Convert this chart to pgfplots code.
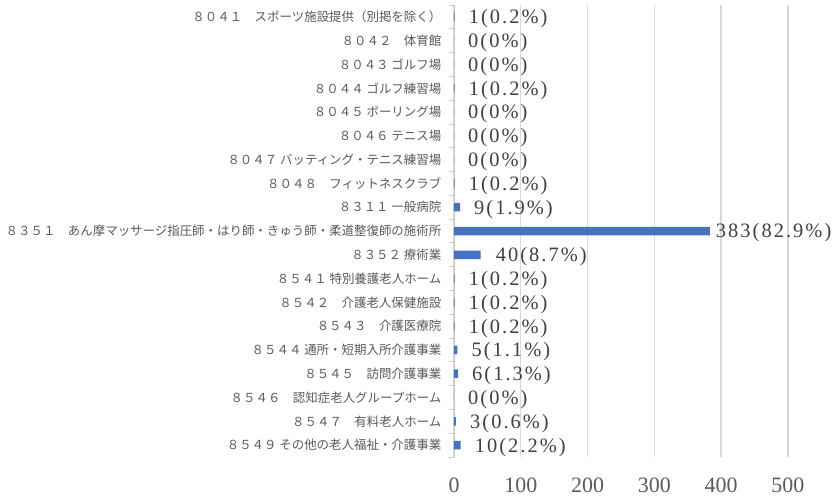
\documentclass[border=0pt]{standalone}
\usepackage{fontspec}
\setmainfont{Liberation Serif}
\newfontfamily\cjk{Noto Sans CJK JP}
\newfontfamily\lab[LetterSpace=10]{Liberation Serif}
\usepackage{pgfplots}
\usepackage{pgfplotstable}
\pgfplotsset{compat=1.18}
\definecolor{barc}{HTML}{4472C4}
\definecolor{txt}{HTML}{595959}
\definecolor{dlab}{HTML}{404040}
\definecolor{grd}{HTML}{D9D9D9}
\definecolor{axc}{HTML}{C8C8C8}

\pgfplotstableread{
y v lab off
0 1 1(0.2\%) 14
1 0 0(0\%) 14
2 0 0(0\%) 14
3 1 1(0.2\%) 14
4 0 0(0\%) 14
5 0 0(0\%) 14
6 0 0(0\%) 14
7 1 1(0.2\%) 14
8 9 9(1.9\%) 14
9 383 383(82.9\%) 6
10 40 40(8.7\%) 15
11 1 1(0.2\%) 14
12 1 1(0.2\%) 14
13 1 1(0.2\%) 14
14 5 5(1.1\%) 14
15 6 6(1.3\%) 14
16 0 0(0\%) 14
17 3 3(0.6\%) 14
18 10 10(2.2\%) 14
}\data

\begin{document}
\begin{tikzpicture}
\path[use as bounding box] (-454bp,-42bp) rectangle (382bp,457bp);
\begin{axis}[
  at={(0,0)}, anchor=south west,
  scale only axis, width=382bp, height=452bp,
  xmin=0, xmax=572, ymin=-0.5, ymax=18.5, y dir=reverse,
  axis line style={draw=none},
  xtick={0,100,...,500},
  xmajorgrids, grid style={grd, line width=1.3bp},
  major x tick style={draw=none},
  /pgf/number format/assume math mode=true,
  xticklabel style={font=\fontsize{22}{24}\selectfont, text=txt, anchor=base, yshift=-35bp},
  ytick={0,...,18},
  yticklabels={
    ８０４１　スポーツ施設提供（別掲を除く）,
    ８０４２　体育館,
    ８０４３ ゴルフ場,
    ８０４４ ゴルフ練習場,
    ８０４５ ボーリング場,
    ８０４６ テニス場,
    ８０４７ バッティング・テニス練習場,
    ８０４８　フィットネスクラブ,
    ８３１１ 一般病院,
    ８３５１　あん摩マッサージ指圧師・はり師・きゅう師・柔道整復師の施術所,
    ８３５２ 療術業,
    ８５４１ 特別養護老人ホーム,
    ８５４２　介護老人保健施設,
    ８５４３　介護医療院,
    ８５４４ 通所・短期入所介護事業,
    ８５４５　訪問介護事業,
    ８５４６　認知症老人グループホーム,
    ８５４７　有料老人ホーム,
    ８５４９ その他の老人福祉・介護事業},
  yticklabel style={font=\cjk\fontsize{12.5}{14}\selectfont, text=txt, anchor=east, inner sep=0pt, xshift=-12.5bp},
  major y tick style={draw=none},
  extra y ticks={-0.5,0.5,...,18.5},
  extra y tick labels={},
  extra y tick style={tick align=outside, major tick length=5bp, major y tick style={draw=axc, line width=0.8bp}},
]
\draw[axc, line width=0.8bp] (rel axis cs:0,0) -- (rel axis cs:0,1);
\addplot[xbar, bar width=8.5bp, bar shift=0pt, fill=barc, draw=none,
  point meta=explicit symbolic,
  visualization depends on={\thisrow{off} \as \myoff},
  nodes near coords,
  nodes near coords style={anchor=west, inner sep=0pt, font=\lab\fontsize{20.5}{22}\selectfont, text=dlab, xshift=\myoff*1bp, yshift=-2bp},
] table[x=v, y=y, meta=lab] {\data};
\end{axis}
\end{tikzpicture}
\end{document}
